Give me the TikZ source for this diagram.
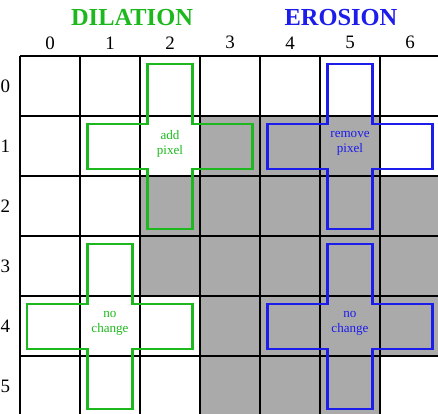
\documentclass[tikz,border=0pt]{standalone}
\usepackage{fontspec}
\setmainfont{Liberation Serif}
\definecolor{dilgreen}{HTML}{1DB81D}
\definecolor{erosblue}{HTML}{1C1CEB}
\definecolor{pixelgray}{HTML}{AAAAAA}

\begin{document}
\begin{tikzpicture}[x=1cm, y=-1cm,
    cross/.style={line width=0.95pt},
    note/.style={font=\fontsize{6.2}{7}\selectfont, align=center, inner sep=0pt},
    title/.style={font=\fontsize{11.6}{13}\selectfont\bfseries},
    index/.style={font=\fontsize{9}{10}\selectfont}]
    \useasboundingbox (-0.3333,-0.9333) rectangle (6.9667,5.95);
    \clip (-0.3333,-0.9333) rectangle (6.9667,5.95);
    % pixels of the image
    \fill[pixelgray] (3,1) rectangle (6,2);
    \fill[pixelgray] (2,2) rectangle (7,4);
    \fill[pixelgray] (3,4) rectangle (7,5);
    \fill[pixelgray] (3,5) rectangle (6,6);
    \draw[line width=0.5pt] (0,0) grid (7,6);
    % indices
    \foreach \c in {0,...,6}
      \node[index] (col\c) at (\c+0.5,-0.22) {\c};
    \foreach \r in {0,...,5}
      \node[index] (row\r) at (-0.245,\r+0.5) {\r};
    \node[title, text=dilgreen] (dilation) at (1.867,-0.642) {DILATION};
    \node[title, text=erosblue] (erosion) at (5.35,-0.642) {EROSION};
    % structuring elements
    \foreach \c/\r/\col in {2/1/dilgreen, 5/1/erosblue, 1/4/dilgreen, 5/4/erosblue}
      \draw[cross, draw=\col] (\c+0.125,\r-0.875) -- (\c+0.875,\r-0.875)
        -- (\c+0.875,\r+0.125) -- (\c+1.875,\r+0.125) -- (\c+1.875,\r+0.875)
        -- (\c+0.875,\r+0.875) -- (\c+0.875,\r+1.875) -- (\c+0.125,\r+1.875)
        -- (\c+0.125,\r+0.875) -- (\c-0.875,\r+0.875) -- (\c-0.875,\r+0.125)
        -- (\c+0.125,\r+0.125) -- cycle;
    \node[note, text=dilgreen] (addpixel) at (2.5,1.458) {add\\pixel};
    \node[note, text=erosblue] (removepixel) at (5.5,1.458) {remove\\pixel};
    \node[note, text=dilgreen] (dilnochange) at (1.5,4.458) {no\\change};
    \node[note, text=erosblue] (erosnochange) at (5.5,4.458) {no\\change};
\end{tikzpicture}
\end{document}
